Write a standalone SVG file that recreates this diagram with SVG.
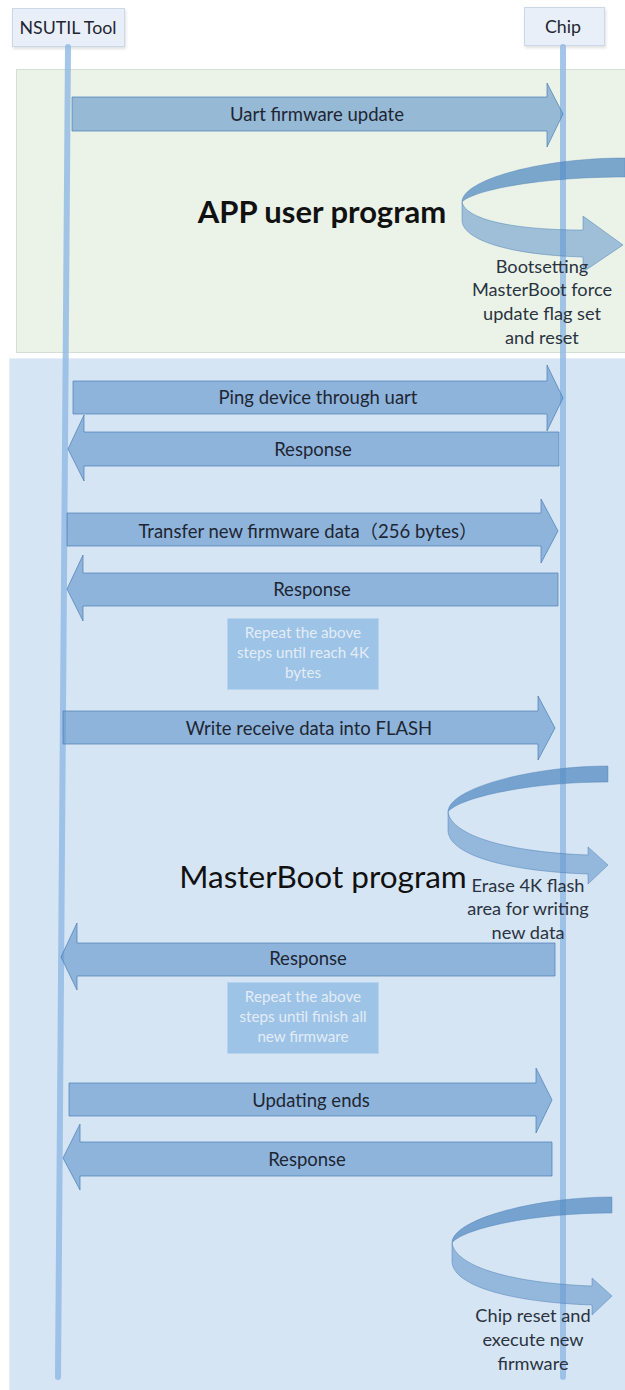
<svg xmlns="http://www.w3.org/2000/svg" width="625" height="1390" viewBox="0 0 625 1390">
<style>
  .lbl{font-family:Lato,"Liberation Sans","Noto Sans CJK SC",sans-serif;font-size:18.5px;fill:#1e2633;text-anchor:middle;dominant-baseline:central}
  .hdr{font-family:Lato,"Liberation Sans",sans-serif;font-size:17.8px;fill:#1e2633;text-anchor:middle;dominant-baseline:central}
  .note{font-family:Lato,"Liberation Sans",sans-serif;font-size:18.2px;fill:#2a3340;text-anchor:middle}
  .rep{font-family:Lato,"Liberation Sans",sans-serif;font-size:15.2px;fill:#e3edf8;text-anchor:middle}
  .arrow{fill:#5e93c9;fill-opacity:0.6;stroke:#4a7db4;stroke-opacity:0.7;stroke-width:1}
  .life{stroke:#8fb8e3;stroke-opacity:0.8;stroke-width:6;stroke-linecap:round;fill:none}
  .box{fill:#e9eff8;stroke:#cdd8e6;stroke-width:1}
  .repbox{fill:#9dc3e6;stroke:#b7d3ee;stroke-width:1}
  .back{fill:#4f88c0;fill-opacity:0.72;stroke:#4a7db4;stroke-opacity:0.5;stroke-width:0.8}
  .front{fill:#5e93c9;fill-opacity:0.55;stroke:#4a7db4;stroke-opacity:0.6;stroke-width:0.8}
</style>
<defs>
  <filter id="sh" x="-10%" y="-10%" width="130%" height="140%">
    <feDropShadow dx="1" dy="2" stdDeviation="1.5" flood-color="#000" flood-opacity="0.12"/>
  </filter>
  <g id="curl">
    <path class="back" d="M160,0 C85,0 0,22 0,46 C10,32 80,16 160,16 Z"/>
    <path class="front" d="M0,46 C4,70 60,86 140,89 L140,81 L160,99 L140,118 L140,108 C55,105 0,88 0,64 Z"/>
  </g>
</defs>
<rect width="625" height="1390" fill="#ffffff"/>

<g id="region-app">
  <rect x="16.5" y="69.5" width="620" height="283" fill="#ebf3e9" stroke="#d6ddd4"/>
  <text x="322" y="211" font-family="Lato,'Liberation Sans',sans-serif" font-size="31" font-weight="bold" fill="#111" text-anchor="middle" dominant-baseline="central">APP user program</text>
</g>
<g id="region-masterboot">
  <rect x="9.5" y="358.5" width="630" height="1040" fill="#d6e5f4" stroke="#e6eef8"/>
  <text x="323" y="876" font-family="Lato,'Liberation Sans',sans-serif" font-size="31.5" fill="#111" text-anchor="middle" dominant-baseline="central">MasterBoot program</text>
</g>

<g id="node-nsutil">
  <rect class="box" x="12.5" y="8.5" width="112" height="38" filter="url(#sh)"/>
  <text class="hdr" x="68" y="27">NSUTIL Tool</text>
</g>
<g id="node-chip">
  <rect class="box" x="524.5" y="7.5" width="80" height="38" filter="url(#sh)"/>
  <text class="hdr" x="563" y="26">Chip</text>
</g>

<g id="lifelines">
  <line class="life" x1="68" y1="47" x2="58" y2="1377"/>
  <line class="life" x1="563" y1="47" x2="563" y2="1377"/>
</g>

<g id="curl-bootsetting">
  <path class="back" d="M625,158 C540,158 462,180 462,202 C474,190 540,177 625,177 Z"/>
  <path class="front" d="M462,202 C466,220 515,230 583,230 L583,216 L623,245 L583,272 L583,257 C510,255 462,240 462,220 Z"/>
  <text class="note" x="542" y="273">Bootsetting</text>
  <text class="note" x="542" y="296">MasterBoot force</text>
  <text class="note" x="542" y="320">update flag set</text>
  <text class="note" x="542" y="344">and reset</text>
</g>
<g id="curl-erase">
  <use href="#curl" transform="translate(448,766)"/>
  <text class="note" x="528" y="892">Erase 4K flash</text>
  <text class="note" x="528" y="915">area for writing</text>
  <text class="note" x="528" y="939">new data</text>
</g>
<g id="curl-reset">
  <use href="#curl" transform="translate(452,1197)"/>
  <text class="note" x="533" y="1322">Chip reset and</text>
  <text class="note" x="533" y="1346">execute new</text>
  <text class="note" x="533" y="1370">firmware</text>
</g>

<g id="note-repeat-4k">
  <rect class="repbox" x="227.5" y="618.5" width="151" height="71"/>
  <text class="rep" x="303" y="638">Repeat the above</text>
  <text class="rep" x="303" y="658">steps until reach 4K</text>
  <text class="rep" x="303" y="678">bytes</text>
</g>
<g id="note-repeat-all">
  <rect class="repbox" x="227.5" y="982.5" width="151" height="71"/>
  <text class="rep" x="303" y="1002">Repeat the above</text>
  <text class="rep" x="303" y="1022">steps until finish all</text>
  <text class="rep" x="303" y="1042">new firmware</text>
</g>

<g id="connectors">
  <polygon class="arrow" points="72,97 547,97 547,83 563,114 547,147 547,131 72,131"/>
  <text class="lbl" x="317" y="114">Uart firmware update</text>

  <polygon class="arrow" points="73,381 547,381 547,365 563,398 547,431 547,414 73,414"/>
  <text class="lbl" x="318" y="397">Ping device through uart</text>

  <polygon class="arrow" points="559,432 84,432 84,415 68,449 84,481 84,466 559,466"/>
  <text class="lbl" x="313" y="449">Response</text>

  <polygon class="arrow" points="67,513 541,513 541,499 558,531 541,563 541,546 67,546"/>
  <text class="lbl" x="308" y="531">Transfer new firmware data（256 bytes）</text>

  <polygon class="arrow" points="558,573 83,573 83,555 67,589 83,621 83,606 558,606"/>
  <text class="lbl" x="312" y="589">Response</text>

  <polygon class="arrow" points="63,711 538,711 538,696 555,728 538,760 538,744 63,744"/>
  <text class="lbl" x="309" y="728">Write receive data into FLASH</text>

  <polygon class="arrow" points="555,943 77,943 77,923 61,957 77,990 77,976 555,976"/>
  <text class="lbl" x="308" y="958">Response</text>

  <polygon class="arrow" points="69,1083 536,1083 536,1068 552,1100 536,1133 536,1116 69,1116"/>
  <text class="lbl" x="311" y="1100">Updating ends</text>

  <polygon class="arrow" points="552,1142 80,1142 80,1124 63,1158 80,1190 80,1176 552,1176"/>
  <text class="lbl" x="307" y="1159">Response</text>
</g>
</svg>
